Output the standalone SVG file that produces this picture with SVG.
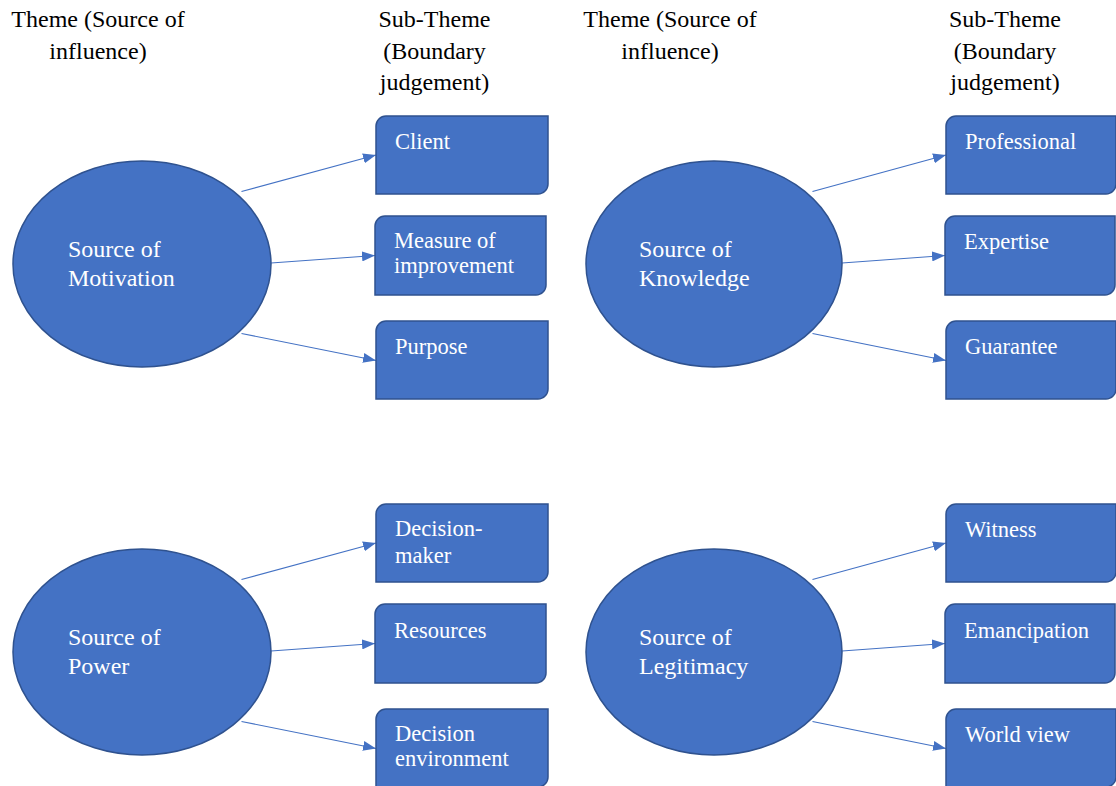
<svg xmlns="http://www.w3.org/2000/svg" width="1116" height="786" viewBox="0 0 1116 786">
<style>
.hdr{font-family:"Liberation Serif","Times New Roman",serif;font-size:24px;fill:#000;text-anchor:middle}
.ell{fill:#4472C4;stroke:#2F528F;stroke-width:1.5}
.box{fill:#4472C4;stroke:#2F528F;stroke-width:1.5}
.et{font-family:"Liberation Serif","Times New Roman",serif;font-size:24px;fill:#fff}
.bt{font-family:"Liberation Serif","Times New Roman",serif;font-size:22.5px;fill:#fff}
.con{stroke:#4472C4;stroke-width:1.2;fill:none;marker-end:url(#ah)}
</style>
<defs>
<marker id="ah" viewBox="0 0 13 10" markerWidth="13" markerHeight="10" refX="13" refY="5" orient="auto" markerUnits="userSpaceOnUse">
<path d="M0,0 L13,5 L0,10 z" fill="#4472C4"/>
</marker>
</defs>
<rect width="1116" height="786" fill="#fff"/>
<g id="headers">
<text class="hdr" x="98" y="27">Theme (Source of</text>
<text class="hdr" x="98" y="59">influence)</text>
<text class="hdr" x="434.5" y="27">Sub-Theme</text>
<text class="hdr" x="434.5" y="58.5">(Boundary</text>
<text class="hdr" x="434.5" y="89.5">judgement)</text>
<text class="hdr" x="670" y="27">Theme (Source of</text>
<text class="hdr" x="670" y="59">influence)</text>
<text class="hdr" x="1005" y="27">Sub-Theme</text>
<text class="hdr" x="1005" y="58.5">(Boundary</text>
<text class="hdr" x="1005" y="89.5">judgement)</text>
</g>
<g id="connectors">
<line class="con" x1="241.5" y1="191.5" x2="376" y2="155"/>
<line class="con" x1="271" y1="263" x2="375" y2="255.5"/>
<line class="con" x1="241.5" y1="333.5" x2="376" y2="360.5"/>
<line class="con" x1="812.5" y1="191.5" x2="946" y2="155"/>
<line class="con" x1="842" y1="263" x2="945" y2="255.5"/>
<line class="con" x1="812.5" y1="333.5" x2="946" y2="360.5"/>
<line class="con" x1="241.5" y1="579.5" x2="376" y2="543"/>
<line class="con" x1="271" y1="651" x2="375" y2="643.5"/>
<line class="con" x1="241.5" y1="721.5" x2="376" y2="748.5"/>
<line class="con" x1="812.5" y1="579.5" x2="946" y2="543"/>
<line class="con" x1="842" y1="651" x2="945" y2="643.5"/>
<line class="con" x1="812.5" y1="721.5" x2="946" y2="748.5"/>
</g>
<g id="motivation">
<ellipse class="ell" cx="142" cy="264" rx="129" ry="103"/>
<text class="et" x="68" y="257">Source of</text>
<text class="et" x="68" y="286">Motivation</text>
</g>
<g id="client">
<path class="box" d="M386,116 H548 V184 A10,10 0 0 1 538,194 H376 V126 A10,10 0 0 1 386,116 Z"/>
<text class="bt" x="395" y="149">Client</text>
</g>
<g id="measure">
<path class="box" d="M385,216 H546 V285 A10,10 0 0 1 536,295 H375 V226 A10,10 0 0 1 385,216 Z"/>
<text class="bt" x="394" y="248">Measure of</text>
<text class="bt" x="394" y="273">improvement</text>
</g>
<g id="purpose">
<path class="box" d="M386,321 H548 V389 A10,10 0 0 1 538,399 H376 V331 A10,10 0 0 1 386,321 Z"/>
<text class="bt" x="395" y="354">Purpose</text>
</g>
<g id="knowledge">
<ellipse class="ell" cx="714" cy="264" rx="128" ry="103"/>
<text class="et" x="639" y="257">Source of</text>
<text class="et" x="639" y="286">Knowledge</text>
</g>
<g id="professional">
<path class="box" d="M956,116 H1116 V184 A10,10 0 0 1 1106,194 H946 V126 A10,10 0 0 1 956,116 Z"/>
<text class="bt" x="965" y="149">Professional</text>
</g>
<g id="expertise">
<path class="box" d="M955,216 H1115 V285 A10,10 0 0 1 1105,295 H945 V226 A10,10 0 0 1 955,216 Z"/>
<text class="bt" x="964" y="249">Expertise</text>
</g>
<g id="guarantee">
<path class="box" d="M956,321 H1116 V389 A10,10 0 0 1 1106,399 H946 V331 A10,10 0 0 1 956,321 Z"/>
<text class="bt" x="965" y="354">Guarantee</text>
</g>
<g id="power">
<ellipse class="ell" cx="142" cy="652" rx="129" ry="103"/>
<text class="et" x="68" y="645">Source of</text>
<text class="et" x="68" y="674">Power</text>
</g>
<g id="decisionmaker">
<path class="box" d="M386,504 H548 V572 A10,10 0 0 1 538,582 H376 V514 A10,10 0 0 1 386,504 Z"/>
<text class="bt" x="395" y="536">Decision-</text>
<text class="bt" x="395" y="563">maker</text>
</g>
<g id="resources">
<path class="box" d="M385,604 H546 V673 A10,10 0 0 1 536,683 H375 V614 A10,10 0 0 1 385,604 Z"/>
<text class="bt" x="394" y="638">Resources</text>
</g>
<g id="environment">
<path class="box" d="M386,709 H548 V777 A10,10 0 0 1 538,787 H376 V719 A10,10 0 0 1 386,709 Z"/>
<text class="bt" x="395" y="741">Decision</text>
<text class="bt" x="395" y="766">environment</text>
</g>
<g id="legitimacy">
<ellipse class="ell" cx="714" cy="652" rx="128" ry="103"/>
<text class="et" x="639" y="645">Source of</text>
<text class="et" x="639" y="674">Legitimacy</text>
</g>
<g id="witness">
<path class="box" d="M956,504 H1116 V572 A10,10 0 0 1 1106,582 H946 V514 A10,10 0 0 1 956,504 Z"/>
<text class="bt" x="965" y="537">Witness</text>
</g>
<g id="emancipation">
<path class="box" d="M955,604 H1115 V673 A10,10 0 0 1 1105,683 H945 V614 A10,10 0 0 1 955,604 Z"/>
<text class="bt" x="964" y="638">Emancipation</text>
</g>
<g id="worldview">
<path class="box" d="M956,709 H1116 V777 A10,10 0 0 1 1106,787 H946 V719 A10,10 0 0 1 956,709 Z"/>
<text class="bt" x="965" y="742">World view</text>
</g>
</svg>
